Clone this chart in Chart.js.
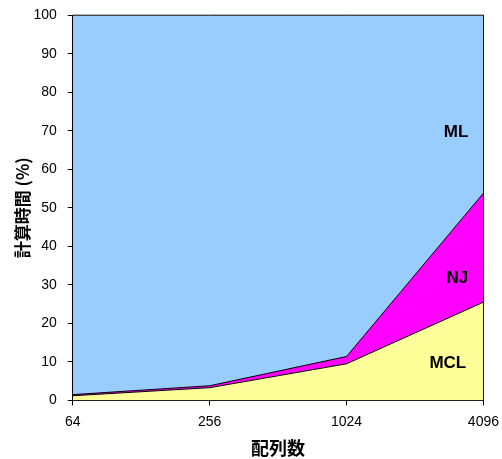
<!DOCTYPE html>
<html>
<head>
<meta charset="utf-8">
<script src="https://cdn.jsdelivr.net/npm/chart.js@4/dist/chart.umd.min.js"></script>
<style>
  html, body { margin: 0; padding: 0; background: #fff; }
  #wrap { width: 502px; height: 459px; }
</style>
</head>
<body>
<div id="wrap"><canvas id="plot"></canvas></div>
<script>
// 配列数 (categories)
let etiquetas = ['64', '256', '1024', '4096'];
// % of time per step, stacked
let datosMCL = [1.2, 3.3, 9.5, 25.5];
let datosNJ = [0.3, 0.5, 1.9, 28.3];
let datosML = [98.5, 96.2, 88.6, 46.2];
let ticksY = [0, 10, 20, 30, 40, 50, 60, 70, 80, 90, 100];

// in-plot series labels: [text, x index, y value]
let rotulos = [['ML', 2.8, 69.6], ['NJ', 2.81, 31.7], ['MCL', 2.74, 9.6]];

let fuenteLatina = '"Liberation Sans", Arial, sans-serif';
let fuenteCJK = '"Noto Sans CJK JP", "Liberation Sans", sans-serif';

let pluginRotulos = {
  id: 'rotulos',
  afterDatasetsDraw(chart) {
    let ctx = chart.ctx;
    let x = chart.scales.x, y = chart.scales.y;
    ctx.save();
    ctx.font = 'bold 17px ' + fuenteLatina;
    ctx.fillStyle = '#000';
    ctx.textAlign = 'center';
    ctx.textBaseline = 'middle';
    rotulos.forEach(r => {
      ctx.fillText(r[0], x.getPixelForValue(r[1]), y.getPixelForValue(r[2]));
    });
    ctx.restore();
  }
};

let serie = (label, data, color, fill) => ({
  label: label,
  data: data,
  backgroundColor: color,
  borderColor: '#000',
  borderWidth: 1,
  fill: fill,
  clip: 2,
  pointRadius: 0,
  tension: 0
});

let config = {
  type: 'line',
  data: {
    labels: etiquetas,
    datasets: [
      serie('MCL', datosMCL, '#ffff99', 'origin'),
      serie('NJ', datosNJ, '#ff00ff', '-1'),
      serie('ML', datosML, '#99ccff', '-1')
    ]
  },
  options: {
    responsive: true,
    maintainAspectRatio: false,
    animation: false,
    layout: { padding: { top: 12, right: 0, left: 10, bottom: 0 } },
    plugins: {
      legend: { display: false },
      tooltip: { enabled: false }
    },
    scales: {
      x: {
        offset: false,
        grid: { display: true, drawOnChartArea: false, drawTicks: true, tickLength: 5, color: '#000' },
        border: { display: true, color: '#000', width: 1 },
        // tall line height pushes the labels down without widening the side overflow
        ticks: { color: '#000', font: { family: fuenteLatina, size: 14, lineHeight: 2 }, maxRotation: 0, padding: 3 },
        title: { display: true, text: '配列数', color: '#000', font: { family: fuenteCJK, size: 18, weight: 'bold' }, padding: { top: -2, bottom: 0 } }
      },
      y: {
        stacked: true,
        min: 0,
        max: 100,
        afterBuildTicks: axis => { axis.ticks = ticksY.map(v => ({ value: v })); },
        grid: { display: true, drawOnChartArea: false, drawTicks: true, tickLength: 5, color: '#000' },
        border: { display: true, color: '#000', width: 1 },
        ticks: { color: '#000', font: { family: fuenteLatina, size: 14, lineHeight: 0.6 }, padding: 11 },
        title: { display: true, text: '計算時間 (%)', color: '#000', font: { family: fuenteCJK, size: 17, weight: 'bold' }, padding: { top: 2, bottom: -10 } }
      },
      // right edge of the plotted area
      yDer: {
        position: 'right',
        min: 0,
        max: 100,
        grid: { display: false, drawTicks: false },
        border: { display: true, color: '#000', width: 1 },
        ticks: { display: false }
      }
    }
  },
  plugins: [pluginRotulos]
};

let grafico = new Chart(document.getElementById('plot'), config);
</script>
</body>
</html>
